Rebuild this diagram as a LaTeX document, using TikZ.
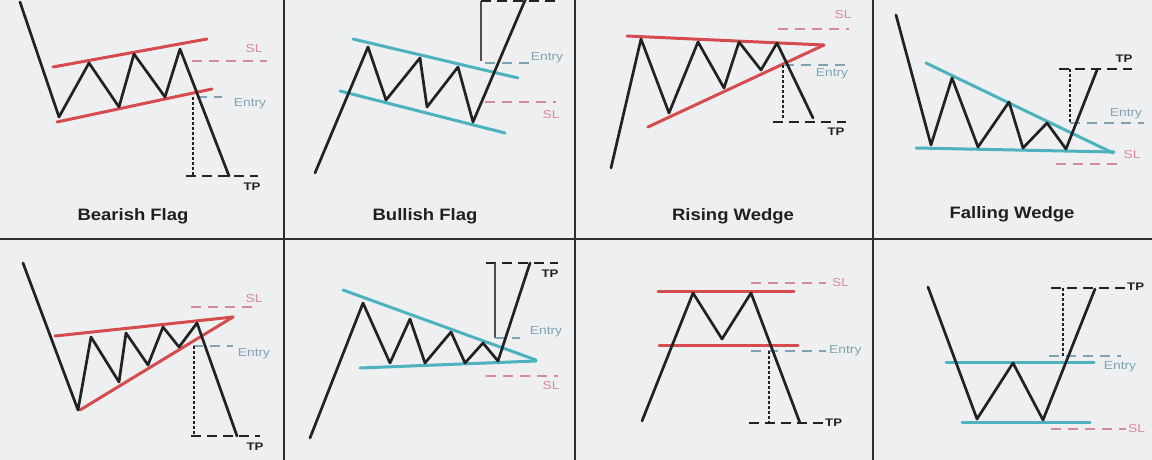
\documentclass[tikz,border=0pt]{standalone}
\usepackage{fontspec}
\setmainfont{Liberation Sans}
\newfontfamily\titlefont[FakeStretch=1.12]{Liberation Sans}
\newfontfamily\labfont[FakeStretch=1.2]{Liberation Sans}
\definecolor{bgc}{HTML}{EEEFF1}
\definecolor{redc}{HTML}{D64B4E}
\definecolor{tealc}{HTML}{4DB2BE}
\definecolor{slc}{HTML}{D98A98}
\definecolor{entc}{HTML}{7FA3B3}
\definecolor{inkc}{HTML}{222222}
\definecolor{gridc}{HTML}{2E2E2E}
\begin{document}
\begin{tikzpicture}[x=1pt,y=-1pt,
  price/.style={draw=inkc, line width=2.7pt, line join=round, line cap=round},
  redline/.style={draw=redc, line width=3pt, line cap=round},
  tealline/.style={draw=tealc, line width=3pt, line cap=round},
  sldash/.style={draw=slc, line width=1.8pt, dash pattern=on 10pt off 7pt},
  entrydash/.style={draw=entc, line width=1.8pt, dash pattern=on 10pt off 7pt},
  tpdash/.style={draw=inkc, line width=2.2pt, dash pattern=on 10pt off 6pt},
  vdash/.style={draw=inkc, line width=1.6pt, dash pattern=on 3pt off 2pt},
  vthin/.style={draw=inkc!80, line width=1.3pt},
  gridline/.style={draw=gridc, line width=2pt},
  title/.style={font=\titlefont\bfseries\fontsize{16.5}{18}\selectfont, text=black!88},
  sllab/.style={font=\labfont\fontsize{11.5}{13}\selectfont, text=slc, inner sep=0pt},
  entlab/.style={font=\labfont\fontsize{11.5}{13}\selectfont, text=entc, inner sep=0pt},
  tplab/.style={font=\labfont\bfseries\fontsize{11}{13}\selectfont, text=inkc, inner sep=0pt}
]
\useasboundingbox[fill=bgc] (0,0) rectangle (1152,460);

% grid
\draw[gridline] (284,0) -- (284,460);
\draw[gridline] (575,0) -- (575,460);
\draw[gridline] (873,0) -- (873,460);
\draw[gridline] (0,239) -- (1152,239);

% ---------- Panel 1: Bearish Flag ----------
\draw[redline] (53,67) -- (207,39);
\draw[redline] (57,122) -- (212,89);
\draw[sldash] (192,61) -- (267,61);
\draw[entrydash] (197,97) -- (222,97);
\draw[vdash] (193,97) -- (193,176);
\draw[tpdash] (186,176) -- (258,176);
\draw[price] (20,2) -- (59,117) -- (89,63) -- (119,107) -- (134,54) -- (165,97) -- (180,49) -- (229,176);
\node[sllab] (sl1) at (254,49) {SL};
\node[entlab] (en1) at (250,104) {Entry};
\node[tplab] (tp1) at (252,187) {TP};
\node[title] (t1) at (133,216) {Bearish Flag};

% ---------- Panel 2: Bullish Flag ----------
\draw[tealline] (353,39) -- (518,78);
\draw[tealline] (340,91) -- (505,133);
\draw[vthin] (481,61) -- (481,1);
\draw[tpdash] (481,1) -- (555,1);
\draw[entrydash] (485,63) -- (535,63);
\draw[sldash] (485,102) -- (556,102);
\draw[price] (315,173) -- (368,47) -- (386,100) -- (420,58) -- (427,107) -- (458,67) -- (473,122) -- (526,-2);
\node[entlab] (en2) at (547,58) {Entry};
\node[sllab] (sl2) at (551,115) {SL};
\node[title] (t2) at (425,216) {Bullish Flag};

% ---------- Panel 3: Rising Wedge ----------
\draw[redline] (627,36) -- (824,45);
\draw[redline] (648,127) -- (824,45);
\draw[sldash] (778,29) -- (849,29);
\draw[entrydash] (784,65) -- (850,65);
\draw[vdash] (783,65) -- (783,118);
\draw[tpdash] (773,122) -- (846,122);
\draw[price] (611,168) -- (641,39) -- (669,113) -- (698,42) -- (724,88) -- (739,42) -- (761,70) -- (777,43) -- (813,118);
\node[sllab] (sl3) at (843,15) {SL};
\node[entlab] (en3) at (832,74) {Entry};
\node[tplab] (tp3) at (836,132) {TP};
\node[title] (t3) at (733,216) {Rising Wedge};

% ---------- Panel 4: Falling Wedge ----------
\draw[tealline] (926,63) -- (1113,153);
\draw[tealline] (916,148) -- (1114,152);
\draw[tpdash] (1059,69) -- (1132,69);
\draw[vdash] (1070,69) -- (1070,123);
\draw[entrydash] (1070,123) -- (1144,123);
\draw[sldash] (1056,164) -- (1122,164);
\draw[price] (896,15) -- (931,145) -- (952,78) -- (978,147) -- (1009,102) -- (1023,148) -- (1047,123) -- (1066,149) -- (1097,70);
\node[tplab] (tp4) at (1124,59) {TP};
\node[entlab] (en4) at (1126,114) {Entry};
\node[sllab] (sl4) at (1132,155) {SL};
\node[title] (t4) at (1012,214) {Falling Wedge};

% ---------- Panel 5: Rising wedge (bottom-left) ----------
\draw[redline] (55,336) -- (233,317);
\draw[redline] (80,410) -- (233,317);
\draw[sldash] (191,307) -- (253,307);
\draw[entrydash] (193,346) -- (233,346);
\draw[vdash] (194,346) -- (194,436);
\draw[tpdash] (191,436) -- (260,436);
\draw[price] (23,263) -- (78,410) -- (91,337) -- (119,382) -- (126,333) -- (148,365) -- (163,327) -- (179,347) -- (197,323) -- (237,436);
\node[sllab] (sl5) at (254,299) {SL};
\node[entlab] (en5) at (254,354) {Entry};
\node[tplab] (tp5) at (255,447) {TP};

% ---------- Panel 6: Falling wedge (bottom, 2nd) ----------
\draw[tealline] (343,290) -- (536,360);
\draw[tealline] (360,368) -- (536,361);
\draw[tpdash] (486,263) -- (558,263);
\draw[vthin] (495,263) -- (495,338);
\draw[entrydash] (495,338) -- (520,338);
\draw[sldash] (486,376) -- (558,376);
\draw[price] (310,438) -- (363,303) -- (390,363) -- (410,319) -- (425,363) -- (451,332) -- (465,363) -- (483,343) -- (498,361) -- (530,263);
\node[tplab] (tp6) at (550,274) {TP};
\node[entlab] (en6) at (546,332) {Entry};
\node[sllab] (sl6) at (551,386) {SL};

% ---------- Panel 7: Double top ----------
\draw[redline] (658,291) -- (794,291);
\draw[redline] (659,345) -- (798,345);
\draw[sldash] (751,283) -- (826,283);
\draw[entrydash] (751,351) -- (826,351);
\draw[vdash] (769,351) -- (769,423);
\draw[tpdash] (749,423) -- (823,423);
\draw[price] (642,421) -- (693,293) -- (722,339) -- (751,293) -- (800,423);
\node[sllab, anchor=west] (sl7) at (832,283) {SL};
\node[entlab, anchor=west] (en7) at (829,351) {Entry};
\node[tplab, anchor=west] (tp7) at (825,423) {TP};

% ---------- Panel 8: Double bottom ----------
\draw[tealline] (946,362) -- (1094,362);
\draw[tealline] (962,422) -- (1090,422);
\draw[tpdash] (1051,288) -- (1126,288);
\draw[vdash] (1063,288) -- (1063,356);
\draw[entrydash] (1049,356) -- (1121,356);
\draw[sldash] (1051,429) -- (1126,429);
\draw[price] (928,287) -- (977,419) -- (1013,363) -- (1043,420) -- (1095,289);
\node[tplab, anchor=west] (tp8) at (1127,287) {TP};
\node[entlab] (en8) at (1120,367) {Entry};
\node[sllab, anchor=west] (sl8) at (1128,429) {SL};
\end{tikzpicture}
\end{document}
